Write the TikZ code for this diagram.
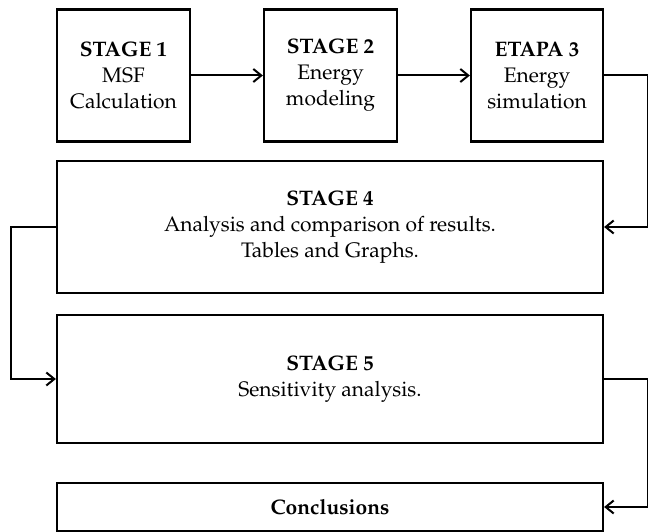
\documentclass[tikz,border=0pt]{standalone}
\usepackage[T1]{fontenc}
\usepackage{mathpazo}
\usetikzlibrary{arrows.meta}
\begin{document}
\begin{tikzpicture}[x=1pt,y=-1pt,
  box/.style={draw,line width=2.2pt,inner sep=0pt,align=center,
    font=\fontsize{21}{26}\selectfont},
  conn/.style={line width=2pt,-{Straight Barb[length=8pt,width=13pt,line width=2pt]}}]
\useasboundingbox (0,0) rectangle (648,532);
\node[box,minimum width=133pt,minimum height=132pt] (s1) at (123.5,75.5) {\textbf{STAGE 1}\\MSF\\Calculation};
\node[box,minimum width=133pt,minimum height=132pt] (s2) at (330.5,75.5) {\textbf{STAGE 2}\\Energy\\modeling};
\node[box,minimum width=132pt,minimum height=132pt] (s3) at (537,75.5) {\textbf{ETAPA 3}\\Energy\\simulation};
\node[box,minimum width=546pt,minimum height=132pt] (s4) at (330,227) {\textbf{STAGE 4}\\Analysis and comparison of results.\\Tables and Graphs.};
\node[box,minimum width=546pt,minimum height=128pt] (s5) at (330,379) {\textbf{STAGE 5}\\Sensitivity analysis.};
\node[box,minimum width=546pt,minimum height=48pt] (c) at (330,507) {\textbf{Conclusions}};
\draw[conn] (s1.east) -- (s2.west);
\draw[conn] (s2.east) -- (s3.west);
\draw[conn] (s3.east) -- ++(44,0) |- (s4.east);
\draw[conn] (s4.west) -- ++(-45,0) |- (s5.west);
\draw[conn] (s5.east) -- ++(44,0) |- (c.east);
\end{tikzpicture}
\end{document}
